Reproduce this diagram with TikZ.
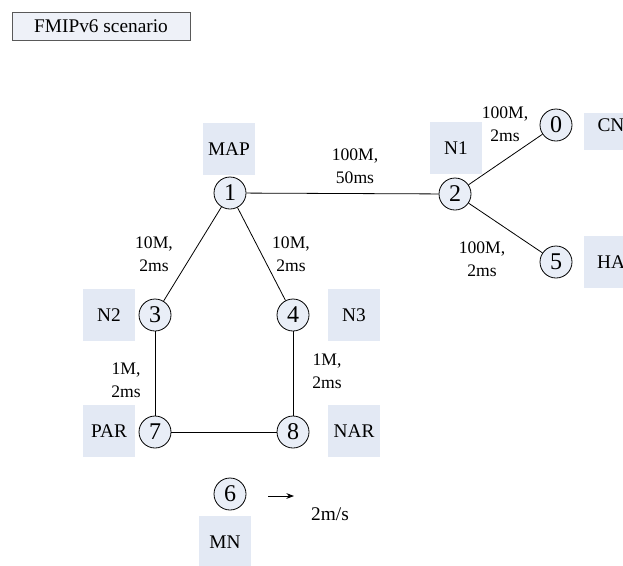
\documentclass[tikz,border=0pt]{standalone}
\usepackage{fontspec}
\setmainfont{Liberation Serif}
\usetikzlibrary{arrows.meta}
\tikzset {>=Stealth}
\definecolor{hostfill}{HTML}{E9EEF7}
\definecolor{tagfill}{HTML}{E3E9F4}
\definecolor{titlefill}{HTML}{EEF1F8}
\tikzset{
  host/.style={circle,draw,fill=hostfill,line width=.6pt,minimum size=24pt,inner sep=0pt,
    font=\fontsize{18}{20}\selectfont},
  tag/.style={fill=tagfill,minimum width=39pt,minimum height=39pt,inner sep=0pt},
  link/.style={line width=.6pt},
  cost/.style={align=center,inner sep=1pt,font=\fontsize{13.2}{17}\selectfont}
}

\begin{document}
\begin{tikzpicture}[x=.75pt,y=-.75pt,font=\fontsize{14.5}{17}\selectfont]
\useasboundingbox (0,0) rectangle (623,565);

\node[draw=black!65,fill=titlefill,line width=.6pt,minimum width=133.5pt,minimum height=21pt,inner sep=0pt]
  (title) at (101,26) {FMIPv6 scenario};

% boxes behind the hosts
\node[tag] (mapbox) at (229,149) {MAP};
\node[tag] (n1box) at (456,148) {N1};
\node[tag] (n2box) at (109,315) {N2};
\node[tag] (n3box) at (354,315) {N3};
\node[tag] (parbox) at (109,431) {PAR};
\node[tag] (narbox) at (354,431) {NAR};
\node[tag] (mnbox) at (225,542) {MN};
\fill[tagfill] (584,113) rectangle (623,150);
\fill[tagfill] (584,236) rectangle (623,288);
\node (cnlabel) at (611,125) {CN};
\node (halabel) at (611,262) {HA};

\foreach \name/\x/\y in {0/556/125,1/230/193,2/455/194,3/155/315,4/293/315,
                         5/556/262,6/230/494,7/155/432,8/293/432}
  \node[host] (h\name) at (\x,\y) {\name};

\foreach \a/\b in {1/2,2/0,2/5,1/3,1/4,3/7,4/8,7/8}
  \draw[link] (h\a) -- (h\b);

\node[cost] (c12) at (355,166) {100M,\\50ms};
\node[cost] (c20) at (505,124) {100M,\\2ms};
\node[cost] (c25) at (482,259) {100M,\\2ms};
\node[cost] (c13) at (154,254) {10M,\\2ms};
\node[cost] (c14) at (291,254) {10M,\\2ms};
\node[cost] (c37) at (126,380) {1M,\\2ms};
\node[cost] (c48) at (327,371) {1M,\\2ms};

\coordinate (movefrom) at (268,496);
\coordinate (moveto) at (294,496);
\draw[link,->] (movefrom) -- (moveto);
\node (speed) at (330,514) {2m/s};
\end{tikzpicture}
\end{document}
